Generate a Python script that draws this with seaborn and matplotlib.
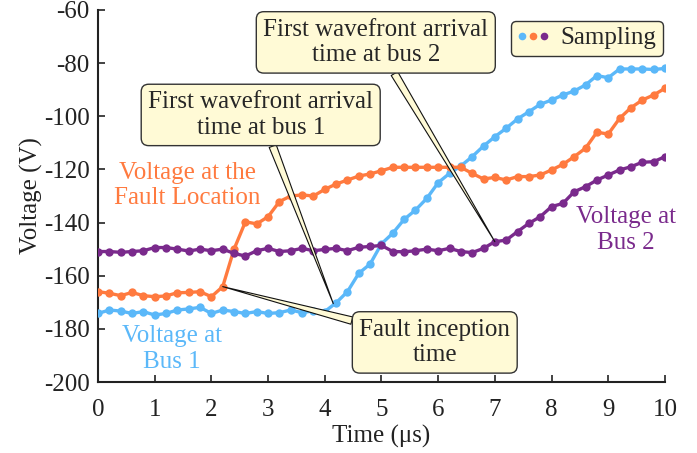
import numpy as np
import pandas as pd
import matplotlib
matplotlib.use("Agg")
import matplotlib.pyplot as plt
import seaborn as sns
from matplotlib.lines import Line2D
from matplotlib.legend_handler import HandlerTuple

# ---- data ----
time_us = [round(0.2 * i, 1) for i in range(51)]

v_fault = [-166.0, -166.6, -167.5, -166.3, -167.5, -167.9, -167.6, -166.4, -166.3, -166.0, -167.9,
           -164.1, -150.0, -139.7, -140.5, -137.8, -132.1, -130.0, -129.6, -130.0, -127.5,
           -125.5, -124.0, -122.5, -121.7, -120.5, -119.2, -119.2, -119.2, -119.2, -119.2,
           -119.2, -119.2, -121.5, -123.6, -123.0, -124.0, -122.7, -122.7, -122.1, -120.2,
           -118.1, -115.2, -112.0, -106.0, -106.7, -100.8, -96.8, -93.9, -92.0, -89.5]

v_bus1 = [-174.2, -172.9, -173.3, -174.2, -173.5, -174.8, -174.2, -172.9, -172.5, -171.9, -174.2,
          -172.9, -173.5, -174.2, -173.5, -174.2, -173.9, -172.9, -173.9, -173.2, -173.5,
          -170.2, -166.0, -159.1, -155.6, -148.0, -144.0, -138.8, -135.3, -130.9, -125.0,
          -121.5, -118.7, -115.2, -111.2, -107.7, -104.5, -101.0, -98.3, -95.5, -93.9,
          -92.0, -90.5, -88.2, -84.7, -85.5, -82.2, -82.2, -82.2, -82.4, -82.0]

v_bus2 = [-150.9, -150.9, -151.2, -150.9, -150.6, -149.4, -149.4, -150.0, -150.7, -150.0, -150.6,
          -150.0, -151.6, -152.6, -150.6, -149.7, -150.9, -150.6, -149.7, -150.6, -150.1,
          -149.7, -150.6, -149.3, -149.0, -148.6, -150.9, -151.0, -150.6, -150.0, -150.6,
          -149.7, -150.9, -151.3, -149.7, -147.2, -146.6, -143.4, -140.3, -137.8, -134.0,
          -132.8, -128.4, -126.5, -124.0, -122.1, -120.2, -119.0, -117.3, -117.1, -115.2]

series_names = ["Voltage at Bus 1", "Voltage at the Fault Location", "Voltage at Bus 2"]
colors = ["#5BB8F9", "#FF7A3F", "#7A2A8C"]
x_ticks = list(range(0, 11))
y_ticks = list(range(-200, -59, 20))

df = pd.concat([
    pd.DataFrame({"t": time_us, "v": v_bus1, "s": series_names[0]}),
    pd.DataFrame({"t": time_us, "v": v_fault, "s": series_names[1]}),
    pd.DataFrame({"t": time_us, "v": v_bus2, "s": series_names[2]}),
])

sns.set_style("ticks")
plt.rcParams["font.family"] = ["Liberation Serif", "DejaVu Serif"]

FS = 18

fig = plt.figure(figsize=(6.97, 4.53), dpi=100)
ax = fig.add_axes([0.1406, 0.1567, 0.8134, 0.8213])

sns.lineplot(data=df, x="t", y="v", hue="s", palette=dict(zip(series_names, colors)),
             marker="o", markersize=6, markeredgewidth=0, linewidth=2.4,
             legend=False, ax=ax, zorder=3)

ax.set_xlim(0, 10)
ax.set_ylim(-200, -60)
ax.set_xticks(x_ticks)
ax.set_yticks(y_ticks)
ax.set_xticklabels([str(v) for v in x_ticks], fontsize=FS)
ax.set_yticklabels([str(v) for v in y_ticks], fontsize=FS)
ax.tick_params(direction="in", length=5, width=1.2, colors="#222222")
ax.tick_params(axis="x", pad=12)
ax.tick_params(axis="y", pad=6)
for sp in ["top", "right"]:
    ax.spines[sp].set_visible(False)
for sp in ["left", "bottom"]:
    ax.spines[sp].set_linewidth(1.5)
    ax.spines[sp].set_color("#222222")
ax.set_xlabel("Time (μs)", fontsize=FS, color="#222222", labelpad=3)
ax.set_ylabel("Voltage (V)", fontsize=FS, color="#222222", labelpad=1)

# curve labels
ax.text(1.57, -126.0, "Voltage at the\nFault Location", color=colors[1], fontsize=FS,
        ha="center", va="center", linespacing=1.2)
ax.text(1.3, -187.6, "Voltage at\nBus 1", color=colors[0], fontsize=FS,
        ha="center", va="center", linespacing=1.2)
ax.text(9.31, -142.8, "Voltage at\nBus 2", color=colors[2], fontsize=FS,
        ha="center", va="center", linespacing=1.2)

box = dict(boxstyle="round,pad=0.28,rounding_size=0.3", fc="#FFFAD6", ec="#333333", lw=1.0)
wedge = dict(arrowstyle="wedge,tail_width=0.3,shrink_factor=0.5", fc="#FFFAD6",
             ec="#111111", lw=0.8, shrinkA=0, shrinkB=0)

ax.annotate("First wavefront arrival\ntime at bus 2", xy=(7.0, -147.2), xytext=(4.9, -72.2),
            fontsize=FS, ha="center", va="center", bbox=box, arrowprops=wedge,
            linespacing=1.2, zorder=5)
ax.annotate("First wavefront arrival\ntime at bus 1", xy=(4.15, -170.5), xytext=(2.87, -99.5),
            fontsize=FS, ha="center", va="center", bbox=box, arrowprops=wedge,
            linespacing=1.2, zorder=5)
ax.annotate("Fault inception\ntime", xy=(2.2, -164.1), xytext=(5.94, -185.1),
            fontsize=FS, ha="center", va="center", bbox=box, arrowprops=wedge,
            linespacing=1.2, zorder=5)

# legend
handles = tuple(Line2D([], [], marker="o", color=c, linestyle="none", markersize=5.5,
                       markeredgewidth=0) for c in colors)
leg = ax.legend([handles], ["Sampling"], handler_map={tuple: HandlerTuple(ndivide=None, pad=0.0)},
                loc="upper right", bbox_to_anchor=(1.005, 0.985), fontsize=FS, frameon=True,
                fancybox=True, handlelength=1.3, handletextpad=0.45, borderpad=0.25,
                borderaxespad=0.2)
leg.get_frame().set_facecolor("#FFFAD6")
leg.get_frame().set_edgecolor("#333333")
leg.get_frame().set_linewidth(1.0)
leg.get_frame().set_alpha(1.0)

fig.savefig("out.png", dpi=100)
